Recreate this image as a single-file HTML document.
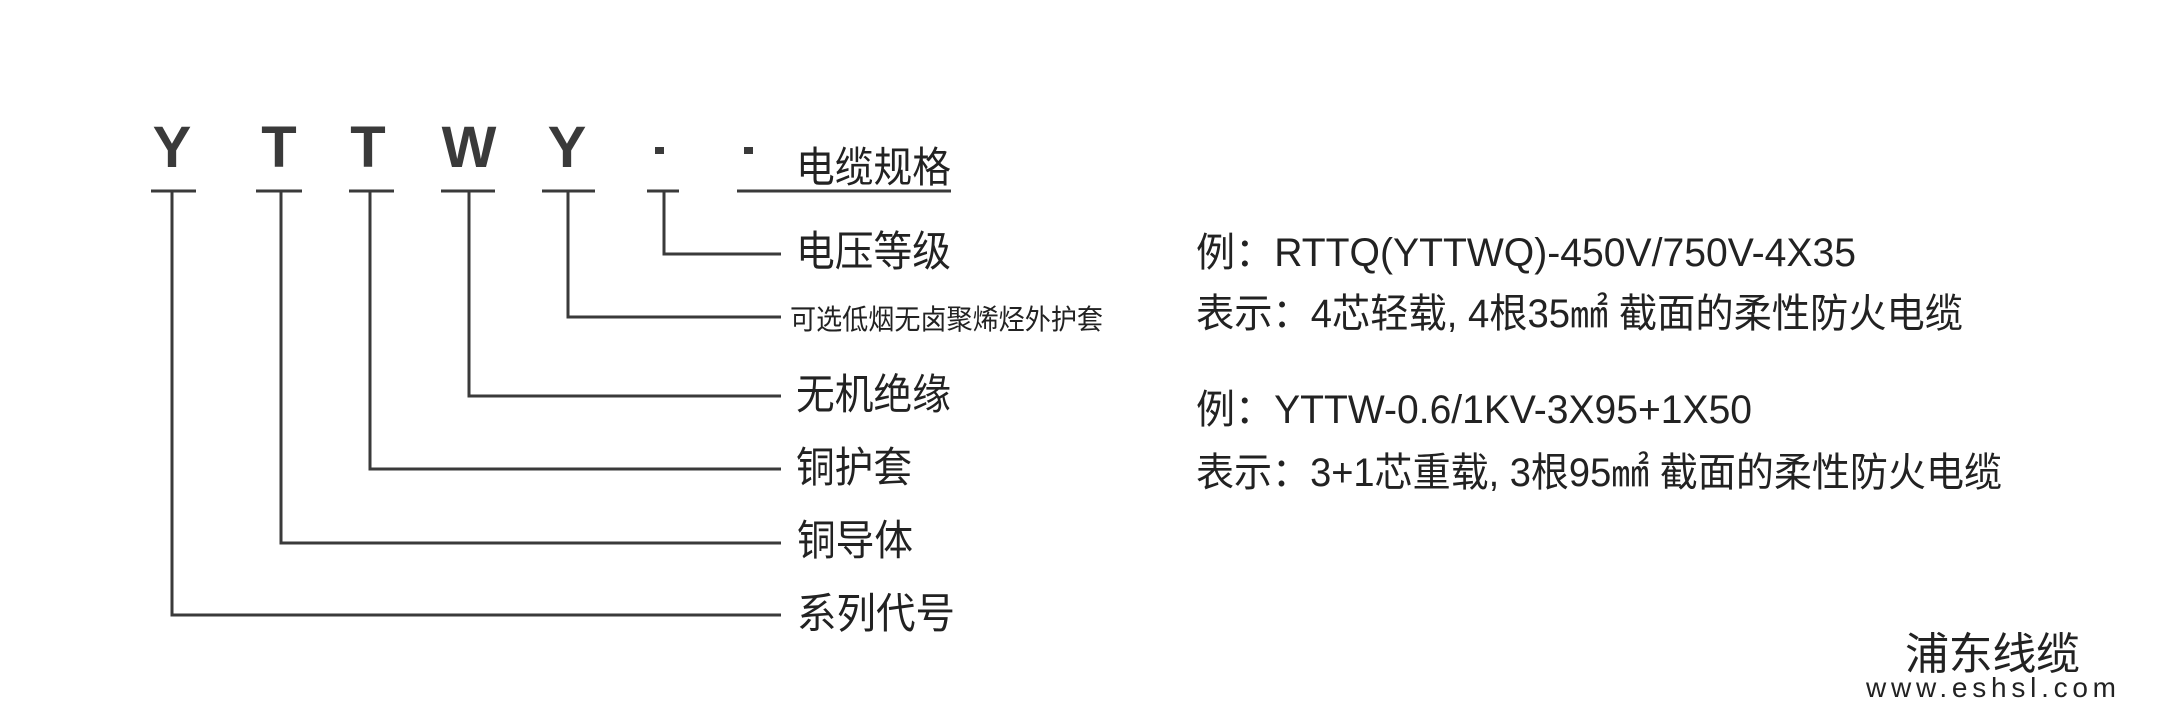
<!DOCTYPE html>
<html><head><meta charset="utf-8"><style>
html,body{margin:0;padding:0;background:#fff;}
svg{display:block;}
</style></head><body>
<svg width="2170" height="727" viewBox="0 0 2170 727" xmlns="http://www.w3.org/2000/svg">
<g font-family="Liberation Sans, sans-serif" font-weight="bold" font-size="58" fill="#3a3a3a" text-anchor="middle">
<text x="172" y="167">Y</text>
<text x="279" y="167">T</text>
<text x="368" y="167">T</text>
<text x="469" y="167">W</text>
<text x="567" y="167">Y</text>
</g>
<rect x="655" y="147" width="9" height="7" fill="#3a3a3a"/>
<rect x="744" y="147" width="9" height="7" fill="#3a3a3a"/>
<g stroke="#3a3a3a" stroke-width="3" fill="none">
<line x1="151" y1="191" x2="196" y2="191"/>
<line x1="256" y1="191" x2="302" y2="191"/>
<line x1="349" y1="191" x2="394" y2="191"/>
<line x1="441" y1="191" x2="495" y2="191"/>
<line x1="542" y1="191" x2="595" y2="191"/>
<line x1="647" y1="191" x2="679" y2="191"/>
<line x1="737" y1="191" x2="951" y2="191"/>
<polyline points="664,191 664,254 781,254"/>
<polyline points="568,191 568,317 781,317"/>
<polyline points="469,191 469,396 781,396"/>
<polyline points="370,191 370,469 781,469"/>
<polyline points="281,191 281,543 781,543"/>
<polyline points="172,191 172,615 781,615"/>
</g>
<g font-family="Liberation Sans, Noto Sans CJK SC, sans-serif" fill="#222" font-size="42" lengthAdjust="spacingAndGlyphs">
<text x="796" y="182" textLength="155" lengthAdjust="spacingAndGlyphs">电缆规格</text>
<text x="796" y="266" textLength="155" lengthAdjust="spacingAndGlyphs">电压等级</text>
<text x="790" y="329" font-size="28" textLength="313" lengthAdjust="spacingAndGlyphs">可选低烟无卤聚烯烃外护套</text>
<text x="796" y="409" textLength="155" lengthAdjust="spacingAndGlyphs">无机绝缘</text>
<text x="796" y="482" textLength="116" lengthAdjust="spacingAndGlyphs">铜护套</text>
<text x="797" y="555" textLength="116" lengthAdjust="spacingAndGlyphs">铜导体</text>
<text x="797" y="628" textLength="158" lengthAdjust="spacingAndGlyphs">系列代号</text>
</g>
<g font-family="Liberation Sans, Noto Sans CJK SC, sans-serif" fill="#222" font-size="40">
<text x="1196" y="266" textLength="660" lengthAdjust="spacingAndGlyphs">例：RTTQ(YTTWQ)-450V/750V-4X35</text>
<text x="1196" y="327" textLength="767" lengthAdjust="spacingAndGlyphs">表示：4芯轻载, 4根35㎟ 截面的柔性防火电缆</text>
<text x="1196" y="423" textLength="556" lengthAdjust="spacingAndGlyphs">例：YTTW-0.6/1KV-3X95+1X50</text>
<text x="1196" y="486" textLength="806" lengthAdjust="spacingAndGlyphs">表示：3+1芯重载, 3根95㎟ 截面的柔性防火电缆</text>
<text x="1905" y="669" font-size="44" textLength="175">浦东线缆</text>
<text x="1866" y="697" font-size="28" textLength="250">www.eshsl.com</text>
</g>
</svg>
</body></html>
